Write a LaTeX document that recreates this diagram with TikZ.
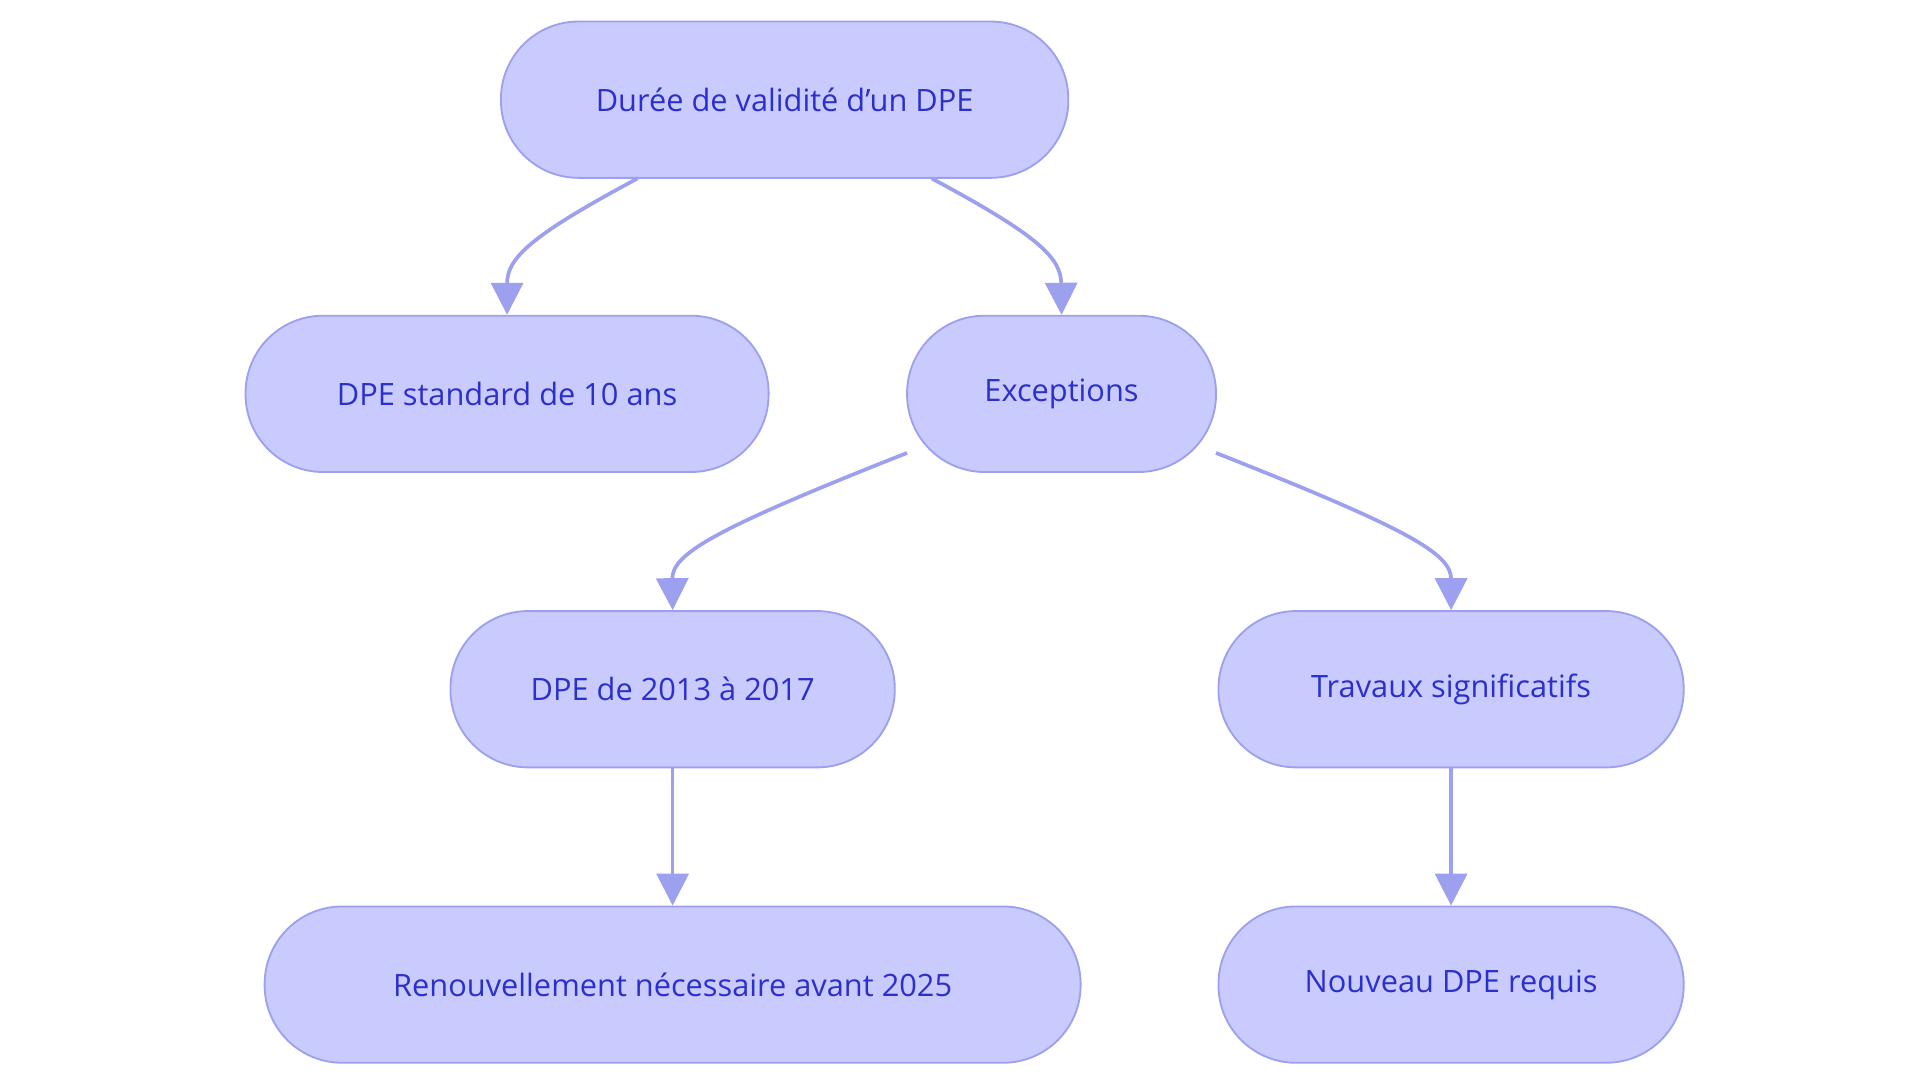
\documentclass[tikz,border=0pt]{standalone}
\usepackage{fontspec}
\setmainfont{Open Sans}
\usetikzlibrary{arrows.meta}
\definecolor{nfill}{HTML}{C9CBFE}
\definecolor{nline}{HTML}{9DA0EE}
\definecolor{ntext}{HTML}{2B2FCB}
\begin{document}
\begin{tikzpicture}[x=1pt,y=-1pt,
 box/.style={draw=nline,line width=1.5pt,fill=nfill,rounded corners=63pt,minimum height=127pt,text=ntext,font=\fontsize{25}{30}\selectfont,inner sep=0pt},
 edge/.style={draw=nline,line width=3pt,-{Triangle[length=26pt,width=26pt]}}]
\useasboundingbox (0,0) rectangle (1560,880);
\node[box,minimum width=461pt] (a) at (637.5,81) {Durée de validité d'un DPE};
\node[box,minimum width=425pt] (b) at (412,320) {DPE standard de 10 ans};
\node[box,minimum width=251pt] (c) at (862.5,320) {Exceptions};
\node[box,minimum width=361pt] (d) at (546.5,560) {DPE de 2013 à 2017};
\node[box,minimum width=378pt] (e) at (1179,560) {Travaux significatifs};
\node[box,minimum width=663pt] (f) at (546.5,800) {Renouvellement nécessaire avant 2025};
\node[box,minimum width=378pt] (g) at (1179,800) {Nouveau DPE requis};
\coordinate (a1) at (518,145); \coordinate (a2) at (757,145);
\coordinate (c1) at (737,368); \coordinate (c2) at (988,368);
\draw[edge] (a1) .. controls (430,192) and (412,210) .. (b.north);
\draw[edge] (a2) .. controls (845,192) and (862,210) .. (c.north);
\draw[edge] (c1) .. controls (580,430) and (546,450) .. (d.north);
\draw[edge] (c2) .. controls (1145,430) and (1179,450) .. (e.north);
\draw[edge] (d.south) -- (f.north);
\draw[edge] (e.south) -- (g.north);
\end{tikzpicture}
\end{document}
